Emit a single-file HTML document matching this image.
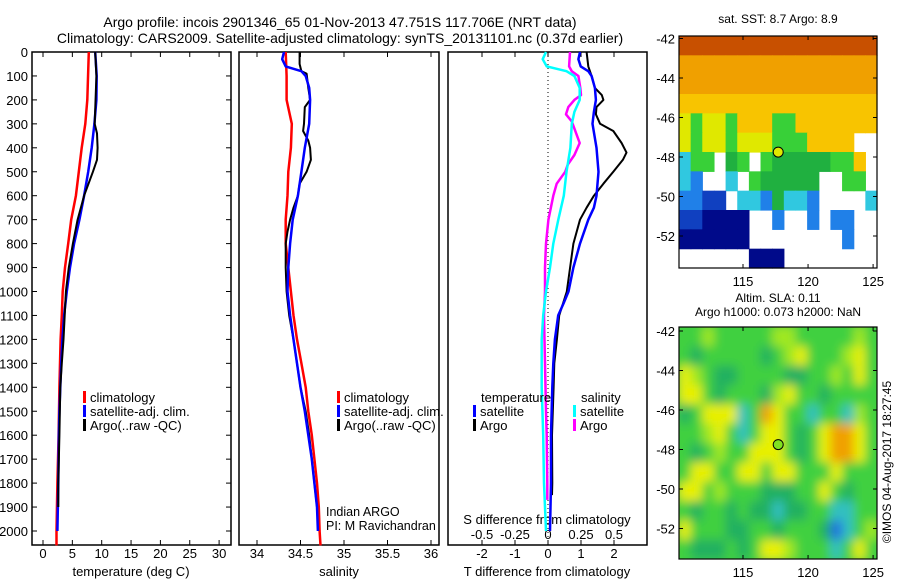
<!DOCTYPE html>
<html><head><meta charset="utf-8"><style>
html,body{margin:0;padding:0;background:#fff;}
svg{display:block;font-family:"Liberation Sans",sans-serif;}
text{fill:#000;}
</style></head><body>
<svg id="fig" width="900" height="580" viewBox="0 0 900 580" xmlns="http://www.w3.org/2000/svg">
<defs><filter id="blur" x="0" y="0" width="1" height="1"><feGaussianBlur stdDeviation="5"/></filter>
<clipPath id="clipSla"><rect x="679" y="327" width="198" height="232"/></clipPath></defs>
<text x="340" y="27" font-size="14" text-anchor="middle">Argo profile: incois 2901346_65 01-Nov-2013 47.751S 117.706E (NRT data)</text>
<text x="340" y="43" font-size="14" text-anchor="middle">Climatology: CARS2009. Satellite-adjusted climatology: synTS_20131101.nc (0.37d earlier)</text>
<g id="g"></g>
</svg>
<script>
// ---------- data ----------
var depthTicks=[0,100,200,300,400,500,600,700,800,900,1000,1100,1200,1300,1400,1500,1600,1700,1800,1900,2000];
var tempTicks=[0,5,10,15,20,25,30];
var salTicks=[34,34.5,35,35.5,36];
var salTickLabels=["34","34.5","35","35.5","36"];
var tdiffTicks=[-2,-1,0,1,2];
var sdiffTicks=[-0.5,-0.25,0,0.25,0.5];
var sdiffTickLabels=["-0.5","-0.25","0","0.25","0.5"];

var tClimDepth=[0,200,300,400,500,600,700,800,900,1000,1100,1200,1400,1600,1800,2000,2060];
var tClimVal=[7.8,7.55,7.2,6.6,6.1,5.6,4.8,4.3,3.75,3.35,3.2,3.0,2.8,2.65,2.45,2.3,2.3];
var tSatDepth=[0,100,200,300,400,500,600,700,800,900,1000,1100,1200,1300,1400,1500,1600,1800,2000];
var tSatVal=[8.9,9.15,9.1,8.75,8.3,7.7,7.0,6.2,5.3,4.6,4.05,3.6,3.3,3.1,2.95,2.8,2.7,2.6,2.45];
var tArgoDepth=[0,100,300,340,400,450,500,600,700,800,900,1000,1100,1200,1300,1400,1600,1800,1900];
var tArgoVal=[8.9,9.1,8.8,9.2,9.3,9.2,8.5,7.0,5.9,5.1,4.4,3.9,3.7,3.5,3.2,2.95,2.8,2.6,2.6];

var sClimDepth=[0,100,200,250,300,400,500,600,700,800,1000,1100,1200,1300,1400,1500,1600,1700,1800,1900,2000,2060];
var sClimVal=[34.33,34.34,34.34,34.37,34.40,34.39,34.36,34.35,34.33,34.33,34.39,34.42,34.46,34.51,34.56,34.59,34.63,34.66,34.69,34.71,34.72,34.73];
var sSatDepth=[0,30,60,70,80,100,150,200,300,400,500,600,700,800,900,1000,1100,1200,1300,1400,1500,1600,1700,1800,1900,2000];
var sSatVal=[34.31,34.29,34.33,34.42,34.51,34.56,34.60,34.61,34.60,34.55,34.51,34.47,34.41,34.38,34.36,34.35,34.38,34.42,34.46,34.50,34.55,34.59,34.63,34.66,34.69,34.70];
var sArgoDepth=[0,50,80,90,150,200,230,300,330,370,400,450,500,550,600,650,700,750,800,900,1000,1100,1200,1400,1500,1600,1700,1800,1900];
var sArgoVal=[34.49,34.49,34.51,34.57,34.59,34.61,34.55,34.54,34.53,34.59,34.61,34.62,34.57,34.49,34.47,34.42,34.38,34.35,34.33,34.33,34.34,34.37,34.42,34.50,34.56,34.60,34.63,34.66,34.69];

var dTSatDepth=[0,30,60,80,100,150,200,250,300,400,500,600,650,700,800,900,1000,1050,1100,1200,1300,1400,1600,1800,2000];
var dTSatVal=[0.97,0.92,0.99,1.22,1.32,1.42,1.45,1.39,1.35,1.47,1.53,1.47,1.39,1.22,0.97,0.77,0.62,0.47,0.31,0.21,0.16,0.13,0.09,0.09,0.06];
var dTArgoDepth=[0,60,100,150,180,200,230,260,300,330,380,420,450,500,550,600,650,700,800,900,1000,1100,1200,1300,1400,1600,1800,1850];
var dTArgoVal=[1.17,1.22,1.32,1.42,1.63,1.68,1.47,1.45,1.58,1.98,2.23,2.38,2.27,1.98,1.68,1.39,1.17,0.97,0.77,0.67,0.57,0.34,0.27,0.19,0.17,0.12,0.13,0.12];
var dSSatDepth=[0,30,60,70,80,100,150,200,250,300,400,500,600,700,800,900,1000,1100,1200,1400,1600,1800,2000];
var dSSatVal=[-0.015,-0.04,-0.01,0.066,0.14,0.20,0.24,0.24,0.20,0.18,0.17,0.14,0.12,0.078,0.04,0.015,-0.015,-0.036,-0.048,-0.048,-0.036,-0.03,-0.015];
var dSArgoDepth=[0,60,80,100,150,180,200,230,260,290,320,380,430,470,500,550,600,700,800,900,1000,1100,1300,1500,1600,1800,1870];
var dSArgoVal=[0.167,0.16,0.18,0.23,0.245,0.25,0.2,0.154,0.136,0.18,0.2,0.24,0.2,0.15,0.13,0.066,0.04,0.003,-0.015,-0.023,-0.023,-0.03,-0.023,-0.015,-0.01,-0.005,-0.005];

var latTicks=[-42,-44,-46,-48,-50,-52];
var lonTicks=[115,120,125];
var argoLon=117.706, argoLat=-47.751;
var sstRows=["rrrrrrrrrrrrrrrrr","ooooooooooooooooo","ooooooooooooooooo","yyyyyyyyyyyyyyyyy","YgYYgyyyggyyyyyyy","YgYYgYYYgggyyyy..","cgg.Gg.gGGGGGggy.","cb..c.gGGGGG..gg.","bbBB.ccbGccb....c","BBNNNN..b..b.bb..","NNNNNN........b..","......NNN........"];
var slaRows=["gglgggggllggggglg","gGgggggGglyggglyg","ylgGGggggGGgglgyg","yygGgggGlyggGgggg","Ggyyycgoyggcggclg","gglygcgyygGgyooyg","gGglggyyygGgyooyg","gyyggyygyygggyggg","yyglgggGGGggygGgg","gGggGgGGcGGggccgg","ygggGGggGgggGbcgl","gGGGgGgyylgggcgyg"];
var sstColors={r:"#c85000",o:"#f0a000",y:"#f8c400",Y:"#e0e800",g:"#38d038",G:"#20b040",c:"#30c8e0",b:"#2080e8",B:"#1040c0",N:"#000a8a"};
var slaColors={g:"#40d040",G:"#20b060",l:"#a0e820",y:"#e8f000",o:"#f0a000",c:"#30c0c0",b:"#2070e0"};

// ---------- helpers ----------
var NS="http://www.w3.org/2000/svg", G=document.getElementById('g');
function el(t,a,p){var e=document.createElementNS(NS,t);for(var k in a)e.setAttribute(k,a[k]);(p||G).appendChild(e);return e;}
function txt(x,y,s,anchor,fs){var e=el('text',{x:x,y:y,'font-size':fs||13,'text-anchor':anchor||'middle'});e.textContent=s;return e;}
var TOP=52,BOT=545;
function yD(d){return TOP+d*0.2395;}
function xT(v){return 43+v*5.87;}
function xS(v){return 257+(v-34)*87;}
function xDT(v){return 548+v*33;}
function xDS(v){return 548+v*132;}
function stepPath(ds,vs,fx){var p='';for(var i=0;i<ds.length;i++){p+=(i?'L':'M')+fx(vs[i]).toFixed(1)+' '+yD(ds[i]).toFixed(1);}return p;}
function line(ds,vs,fx,col,name,w){var e=el('path',{d:stepPath(ds,vs,fx),fill:'none',stroke:col,'stroke-width':w||2.5,'stroke-linejoin':'round'});

return e;}

function panel(x0,x1,name){var r=el('rect',{x:x0,y:TOP,width:x1-x0,height:BOT-TOP,fill:'none',stroke:'#000','stroke-width':1.5});

}
panel(32,231,'temperature-panel');panel(239,439,'salinity-panel');panel(448,647,'difference-panel');

// depth axis
depthTicks.forEach(function(d){var y=yD(d);el('line',{x1:32,y1:y,x2:37,y2:y,stroke:'#000'});el('line',{x1:226,y1:y,x2:231,y2:y,stroke:'#000'});
var t=txt(28,y+5,String(d),'end');

});

function xticks(ticks,labels,fx,ly,name){ticks.forEach(function(v,i){var x=fx(v);el('line',{x1:x,y1:BOT,x2:x,y2:BOT-5,stroke:'#000'});el('line',{x1:x,y1:TOP,x2:x,y2:TOP+5,stroke:'#000'});
var t=txt(x,ly,labels[i]);

});}
xticks(tempTicks,tempTicks.map(String),xT,558,'temperature-tick-label');
xticks(salTicks,salTickLabels,xS,558,'salinity-tick-label');
xticks(tdiffTicks,tdiffTicks.map(String),xDT,558,'t-diff-tick-label');
sdiffTicks.forEach(function(v,i){var t=txt(xDS(v),539,sdiffTickLabels[i]);

});

var lab=[[131,576,'temperature (deg C)','temperature-axis-title'],[339,576,'salinity','salinity-axis-title'],[547,576,'T difference from climatology','t-diff-axis-title'],[547,524,'S difference from climatology','s-diff-axis-title']];
lab.forEach(function(a){var t=txt(a[0],a[1],a[2]);});

// zero line
el('line',{x1:548,y1:TOP,x2:548,y2:BOT,stroke:'#000','stroke-dasharray':'1 3'});

// series
line(tClimDepth,tClimVal,xT,'#f00','temp-climatology-line');
line(tSatDepth,tSatVal,xT,'#00f','temp-satellite-line');
line(tArgoDepth,tArgoVal,xT,'#000','temp-argo-line',2);
line(sClimDepth,sClimVal,xS,'#f00','sal-climatology-line');
line(sArgoDepth,sArgoVal,xS,'#000','sal-argo-line',2);
line(sSatDepth,sSatVal,xS,'#00f','sal-satellite-line');
line(dSArgoDepth,dSArgoVal,xDS,'#f0f','s-diff-argo-line');
line(dSSatDepth,dSSatVal,xDS,'#0ff','s-diff-satellite-line');
line(dTArgoDepth,dTArgoVal,xDT,'#000','t-diff-argo-line',2);
line(dTSatDepth,dTSatVal,xDT,'#00f','t-diff-satellite-line');

// legends
function leg(x,y,col,s,name){el('rect',{x:x,y:y-11,width:3,height:12,fill:col});var t=txt(x+7,y,s,'start');

}
leg(83,402,'#f00','climatology','legend-climatology');leg(83,416,'#00f','satellite-adj. clim.','legend-satellite-adj');leg(83,430,'#000','Argo(..raw -QC)','legend-argo');
leg(337,402,'#f00','climatology','legend-sal-climatology');leg(337,416,'#00f','satellite-adj. clim.','legend-sal-satellite-adj');leg(337,430,'#000','Argo(..raw -QC)','legend-sal-argo');
var tt=txt(481,402,'temperature','start');
var ts=txt(581,402,'salinity','start');
leg(473,416,'#00f','satellite','legend-t-satellite');leg(473,430,'#000','Argo','legend-t-argo');
leg(573,416,'#0ff','satellite','legend-s-satellite');leg(573,430,'#f0f','Argo','legend-s-argo');
var i1=txt(326,516,'Indian ARGO','start',12.5);
var i2=txt(326,530,'PI: M Ravichandran','start',12.5);

// maps
var MX0=679,MX1=877,LON0=110.08,LON1=125.3;
function mx(l){return MX0+(l-LON0)*(MX1-MX0)/(LON1-LON0);}
function map(top,bot,latTop,rows,colors,name,blur){
  var ly=function(l){return latTop+(-42-l)*19.75;};
  var grp=el('g',{});
  
  
  var inner=blur?el('g',{filter:'url(#blur)'},el('g',{'clip-path':'url(#clipSla)'},grp)):grp;
  var nr=rows.length,nc=rows[0].length,cw=(MX1-MX0)/nc,ch=(bot-top)/nr;
  if(blur) el('rect',{x:MX0-10,y:top-10,width:MX1-MX0+20,height:bot-top+20,fill:colors.g},inner);
  for(var r=0;r<nr;r++)for(var c=0;c<nc;c++){var k=rows[r][c];if(k==='.')continue;
    var cell=el('rect',{x:(MX0+c*cw).toFixed(2),y:(top+r*ch).toFixed(2),width:(cw+0.6).toFixed(2),height:(ch+0.6).toFixed(2),fill:colors[k]},inner);
    
    }
  el('rect',{x:MX0,y:top,width:MX1-MX0,height:bot-top,fill:'none',stroke:'#000','stroke-width':1.2});
  latTicks.forEach(function(l){var y=ly(l);el('line',{x1:MX0,y1:y,x2:MX0+4,y2:y,stroke:'#000'});el('line',{x1:MX1-4,y1:y,x2:MX1,y2:y,stroke:'#000'});
    var t=txt(675,y+5,String(l),'end');});
  lonTicks.forEach(function(l){var x=mx(l);el('line',{x1:x,y1:bot,x2:x,y2:bot-4,stroke:'#000'});el('line',{x1:x,y1:top,x2:x,y2:top+4,stroke:'#000'});
    var t=txt(x,bot+18,String(l));});
  var m=el('circle',{cx:mx(argoLon),cy:ly(argoLat),r:5,fill:blur?'#80e020':'#e0e800',stroke:'#000','stroke-width':1});
  
  
}
map(36,268,38.5,sstRows,sstColors,'sst-map',false);
map(327,559,331,slaRows,slaColors,'sla-map',true);
var a=txt(778,23,'sat. SST: 8.7 Argo: 8.9',null,12);
var b=txt(778,302,'Altim. SLA: 0.11',null,12);
var c=txt(778,316,'Argo h1000: 0.073 h2000: NaN',null,12);
var v=txt(0,0,'©IMOS 04-Aug-2017 18:27:45','middle',12);v.setAttribute('transform','translate(891,462) rotate(-90)');


</script>
</body></html>
